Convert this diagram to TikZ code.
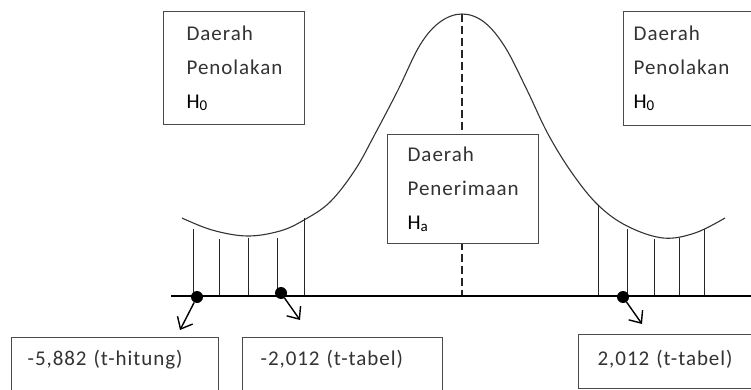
\documentclass[tikz,border=0pt]{standalone}
\usepackage{fontspec}
\setmainfont{Carlito}[LetterSpace=4.5]
\usetikzlibrary{arrows.meta}
\definecolor{ink}{HTML}{333333}
\definecolor{frame}{HTML}{4A4A4A}
\newcommand{\hyp}[1]{\textcolor{black}{H{\fontsize{15}{15}\selectfont\raisebox{-2pt}{#1}}}}
\tikzset{
  lbl/.style={font=\fontsize{21}{34}\selectfont, text=ink},
  regionbox/.style={lbl, draw=frame, line width=1.3pt, fill=white,
    rectangle, align=left, anchor=north west, inner ysep=0pt},
  valuebox/.style={lbl, draw=frame, line width=1.3pt, fill=white,
    rectangle, align=left, anchor=north west, inner ysep=0pt},
  ordinate/.style={draw=black!85, line width=1pt},
  axisline/.style={draw=black, line width=1.3pt},
  crit/.style={circle, fill=black, inner sep=0pt, minimum size=12pt},
  pointer/.style={draw=black, line width=1.4pt,
    -{Straight Barb[length=10pt, width=17pt, line width=1.4pt]}},
}
\begin{document}
\begin{tikzpicture}[x=1pt, y=-1pt]
\useasboundingbox (0,0) rectangle (751,390);

% centre line of the distribution
\draw[black!85, line width=1.3pt, dash pattern=on 8pt off 4pt] (462,14) -- (462,296);

% density curve
\draw[black!80, line width=1.1pt] plot[smooth, tension=0.6] coordinates {
  (182,218) (212,230) (247,236) (280,231) (304,220) (330,202) (355,170)
  (375,134) (398,90) (420,45) (440,22) (462,14) (484,22) (505,47)
  (527,90) (548,134) (572,173) (598,205) (627,226) (663,238) (695,233) (725,218)};

% rejection-region hatching
\foreach \x/\t in {193/229, 219/239, 248/238, 277/238, 304/218,
                   598/205, 627/229, 654/239, 679/238, 704/229}
  \draw[ordinate] (\x,\t) -- (\x,296);

% horizontal axis
\draw[axisline] (171,296) -- (760,296);

% region labels
\node[regionbox, minimum width=141pt, minimum height=113pt, inner xsep=23pt,
      text width=95pt] (rejL) at (163,11)
  {Daerah\\Penolakan\\\hyp{0}};
\node[regionbox, minimum width=160pt, minimum height=114pt, inner xsep=10pt,
      text width=140pt] (rejR) at (623,11)
  {Daerah\\Penolakan\\\hyp{0}};
\node[regionbox, minimum width=151pt, minimum height=109pt, inner xsep=20pt,
      text width=111pt] (acc) at (387,134)
  {Daerah\\Penerimaan\\\hyp{a}};

% value labels
\node[valuebox, inner xsep=16pt, text width=175pt, text height=27.5pt, text depth=30pt]
  (thit) at (11,337) {-5,882 (t-hitung)};
\node[valuebox, inner xsep=18pt, text width=164pt, text height=27.5pt, text depth=30pt]
  (ttabL) at (242,337) {-2,012 (t-tabel)};
\node[valuebox, inner xsep=19pt, text width=160pt, text height=30.5pt, text depth=23.5pt]
  (ttabR) at (578,334) {2,012 (t-tabel)};

% critical points with pointers
\node[crit] (p1) at (197,297) {};
\node[crit] (p2) at (281,293) {};
\node[crit] (p3) at (623,297) {};
\coordinate (q1) at (180,330);
\coordinate (q2) at (300,320);
\coordinate (q3) at (642,324);
\draw[pointer] (p1) -- (q1);
\draw[pointer] (p2) -- (q2);
\draw[pointer] (p3) -- (q3);
\end{tikzpicture}
\end{document}
